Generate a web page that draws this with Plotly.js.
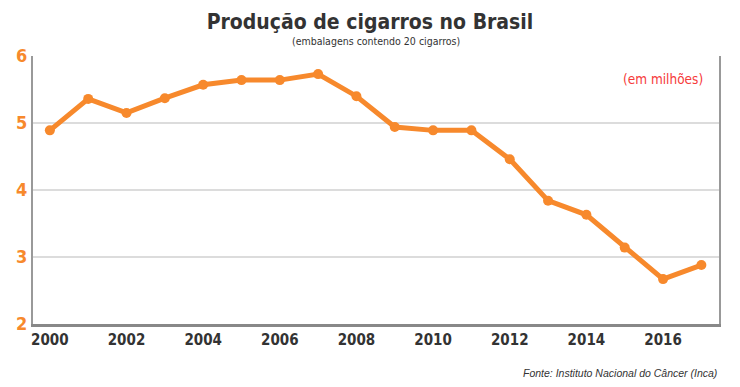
<!DOCTYPE html>
<html><head><meta charset="utf-8">
<script src="https://cdn.plot.ly/plotly-3.0.1.min.js"></script>
<style>body{margin:0;background:#fff}#c{width:740px;height:387px}</style>
</head><body><div id="c"></div>
<script>
const years = [2000,2001,2002,2003,2004,2005,2006,2007,2008,2009,2010,2011,2012,2013,2014,2015,2016,2017];
const production = [4.89,5.36,5.15,5.37,5.57,5.64,5.64,5.73,5.40,4.94,4.89,4.89,4.46,3.84,3.63,3.14,2.67,2.88];
const xTicks = [2000,2002,2004,2006,2008,2010,2012,2014,2016];
const yTicks = [2,3,4,5,6];
const orange = '#f7892c';
const cond = '"DejaVu Sans Condensed", "Liberation Sans Narrow", sans-serif';
Plotly.newPlot('c', [{
  x: years, y: production, type: 'scatter', mode: 'lines+markers',
  line: {color: orange, width: 5}, marker: {color: orange, size: 10}
}], {
  width: 740, height: 387,
  margin: {l: 33, r: 21, t: 56, b: 63},
  paper_bgcolor: '#fff', plot_bgcolor: '#fff',
  showlegend: false,
  title: {text: '<b>Produção de cigarros no Brasil</b>', x: 0.5, xanchor: 'center', y: 0.945, yanchor: 'middle',
    font: {family: cond, size: 21, color: '#333'}},
  xaxis: {range: [1999.56, 2017.46], tickvals: xTicks, ticktext: xTicks.map(String),
    showgrid: false, showline: true, linecolor: '#888', linewidth: 3, ticks: '', zeroline: false,
    tickfont: {family: cond, size: 15, color: '#333', weight: 'bold'}},
  yaxis: {range: [2, 6], tickvals: yTicks, showgrid: true, gridcolor: '#dcdcdc', gridwidth: 1.5,
    showline: true, mirror: true, linecolor: '#999', linewidth: 2, ticks: '', zeroline: false,
    tickfont: {family: cond, size: 18, color: orange, weight: 'bold'}},
  annotations: [
    {text: '(embalagens contendo 20 cigarros)', xref: 'paper', yref: 'paper', x: 0.5, y: 1.056,
      xanchor: 'center', yanchor: 'middle', showarrow: false, font: {family: cond, size: 10.5, color: '#333'}},
    {text: '(em milhões)', xref: 'paper', yref: 'paper', x: 0.98, y: 0.914,
      xanchor: 'right', yanchor: 'middle', showarrow: false, font: {family: cond, size: 13.5, color: '#f63a3a'}},
    {text: '<i>Fonte: Instituto Nacional do Câncer (Inca)</i>', xref: 'paper', yref: 'paper', x: 1.0, y: -0.183,
      xanchor: 'right', yanchor: 'middle', showarrow: false, font: {family: 'Liberation Sans, Arial, sans-serif', size: 10.5, color: '#333'}}
  ]
}, {displayModeBar: false, staticPlot: true});
</script></body></html>
